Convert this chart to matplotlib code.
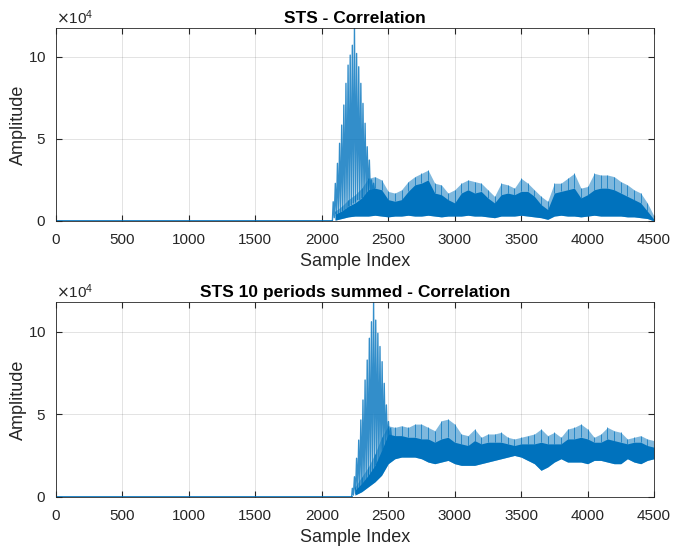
import numpy as np
import matplotlib
matplotlib.use('Agg')
import matplotlib.pyplot as plt

plt.rcParams['font.family'] = ['Liberation Sans', 'DejaVu Sans']

scale = 1e4
blue = '#0072BD'

# ---- STS correlation (values in units of 1e4) ----
onset1 = 2080
lobe1_start, lobe_step = 2086, 16
lobe1_peak = [1.17, 2.29, 3.51, 4.73, 5.84, 7.06, 8.38, 9.49, 10.1, 10.7,
              11.73, 10.2, 9.39, 8.38, 7.16, 5.95, 4.52, 3.71, 2.50, 2.3]
lobe1_base = [0.2, 0.3, 0.4, 0.5, 0.6, 0.7, 0.8, 0.9, 1.0, 1.1,
              1.2, 1.3, 1.3, 1.4, 1.5, 1.5, 1.6, 1.6, 1.7, 1.8]
band1_x = list(range(2100, 4501, 50))
band1_low = [0.05, 0.15, 0.25, 0.3, 0.3, 0.3, 0.35, 0.3, 0.25, 0.3,
             0.3, 0.35, 0.3, 0.3, 0.35, 0.3, 0.25, 0.3, 0.3, 0.3,
             0.35, 0.3, 0.3, 0.25, 0.2, 0.3, 0.3, 0.3, 0.35, 0.3,
             0.25, 0.2, 0.1, 0.3, 0.35, 0.3, 0.3, 0.25, 0.3, 0.35,
             0.3, 0.3, 0.3, 0.3, 0.25, 0.25, 0.2, 0.15, 0.0]
band1_core = [0.4, 0.6, 0.9, 1.1, 1.4, 1.9, 2.0, 1.9, 1.3, 1.2,
              1.3, 1.8, 2.2, 2.3, 2.5, 1.7, 1.6, 1.3, 1.1, 1.7,
              1.9, 1.7, 1.8, 1.4, 1.1, 1.6, 1.7, 1.6, 1.8, 1.8,
              1.5, 1.0, 0.7, 1.7, 1.8, 1.9, 2.0, 1.4, 1.6, 1.9,
              2.0, 2.0, 1.9, 1.7, 1.5, 1.3, 1.1, 0.6, 0.1]
band1_spike = [0.6, 0.9, 1.3, 1.6, 2.0, 2.6, 2.7, 2.5, 1.8, 1.7,
               1.9, 2.4, 2.7, 2.9, 3.1, 2.3, 2.2, 1.7, 1.9, 2.3,
               2.5, 2.4, 2.3, 1.9, 1.5, 2.3, 2.2, 2.0, 2.6, 2.3,
               1.9, 1.5, 1.2, 2.3, 2.3, 2.6, 2.9, 2.0, 2.1, 2.9,
               2.8, 2.8, 2.7, 2.4, 2.2, 1.9, 1.7, 1.1, 0.3]

# ---- STS 10 periods summed ----
onset2 = 2225
lobe2_start = 2230
lobe2_peak = [0.51, 1.21, 2.33, 3.43, 4.65, 5.86, 7.07, 8.28, 9.6, 10.6,
              11.78, 10.7, 9.9, 9.1, 8.18, 6.87, 5.56, 4.55, 4.15]
lobe2_base = [0.1, 0.2, 0.3, 0.45, 0.6, 0.75, 0.9, 1.1, 1.3, 1.5,
              1.7, 1.9, 2.1, 2.4, 2.6, 2.9, 3.1, 3.3, 3.4]
band2_x = list(range(2250, 4501, 50))
band2_low = [0.1, 0.3, 0.6, 0.9, 1.3, 2.0, 2.3, 2.4, 2.4, 2.4,
             2.3, 2.1, 2.0, 2.1, 2.2, 2.0, 1.9, 1.9, 1.9, 2.0,
             2.1, 2.2, 2.3, 2.4, 2.5, 2.4, 2.2, 2.0, 1.6, 1.8,
             2.1, 2.3, 2.1, 2.1, 2.1, 2.0, 2.2, 2.2, 2.1, 2.0,
             2.0, 2.3, 2.1, 2.0, 2.2, 2.3]
band2_core = [0.4, 0.8, 1.3, 1.9, 2.8, 3.8, 3.7, 3.7, 3.6, 3.6,
              3.5, 3.5, 3.3, 3.5, 3.6, 3.3, 3.2, 3.1, 3.4, 3.2,
              3.3, 3.3, 3.3, 3.2, 3.1, 3.2, 3.2, 3.2, 3.3, 3.2,
              3.2, 3.2, 3.5, 3.5, 3.6, 3.5, 3.3, 3.3, 3.5, 3.4,
              3.3, 3.2, 3.3, 3.3, 3.1, 3.0]
band2_spike = [0.6, 1.2, 1.8, 2.6, 3.6, 4.3, 4.2, 4.3, 4.2, 4.4,
               4.4, 4.2, 4.0, 4.6, 4.7, 4.4, 3.8, 3.7, 4.1, 3.6,
               3.8, 3.8, 3.9, 3.6, 3.5, 3.6, 3.7, 3.8, 4.1, 3.7,
               3.9, 3.6, 4.1, 4.2, 4.4, 4.1, 3.6, 3.8, 4.2, 4.0,
               3.9, 3.5, 3.6, 3.7, 3.5, 3.4]

xticks = list(range(0, 4501, 500))


def draw(ax, title, onset, lobe_start, lobe_peak, lobe_base, bx, blow, bcore, bspike):
    bx = np.array(bx)
    blow = np.array(blow) * scale
    bcore = np.array(bcore) * scale
    bspike = np.array(bspike) * scale
    ax.plot([0, onset], [0, 0], color=blue, lw=1.2)
    ax.fill_between(bx, blow, bspike, color=blue, alpha=0.5, lw=0)
    ax.fill_between(bx, blow, bcore, color=blue, lw=0)
    ax.vlines(bx, bcore, bspike, color=blue, lw=0.7, alpha=0.7)
    # main correlation lobe as a zigzag between peaks and troughs
    lx = lobe_start + lobe_step * np.arange(len(lobe_peak))
    xs = np.ravel(np.column_stack([lx, lx + lobe_step / 2]))
    ys = np.ravel(np.column_stack([lobe_peak, lobe_base])) * scale
    ax.plot(np.r_[onset, xs], np.r_[0, ys], color=blue, lw=1.0, alpha=0.8)
    ax.set_xlim(0, 4500)
    ax.set_ylim(0, max(lobe_peak) * scale)
    ax.set_xticks(xticks)
    ax.set_yticks([0, 5e4, 10e4])
    ax.ticklabel_format(axis='y', style='sci', scilimits=(4, 4), useMathText=True)
    ax.grid(True, color='#262626', alpha=0.15, lw=0.6)
    ax.set_axisbelow(True)
    ax.tick_params(direction='in', top=True, right=True, length=4,
                   labelsize=11, colors='#262626')
    ax.tick_params(axis='x', pad=9)
    ax.tick_params(axis='y', pad=7)
    for s in ax.spines.values():
        s.set_color('#262626')
        s.set_linewidth(0.6)
    ax.yaxis.get_offset_text().set_fontsize(11)
    ax.yaxis.get_offset_text().set_color('#262626')
    ax.set_xlabel('Sample Index', fontsize=13, color='#262626', labelpad=4)
    ax.set_ylabel('Amplitude', fontsize=13, color='#262626', labelpad=1)
    ax.set_title(title, fontsize=12.5, fontweight='bold', pad=4)


fig = plt.figure(figsize=(6.74, 5.5), dpi=100)
ax1 = fig.add_axes([0.0831, 0.5982, 0.8872, 0.3503])
ax2 = fig.add_axes([0.0831, 0.0969, 0.8872, 0.3535])

draw(ax1, 'STS - Correlation', onset1, lobe1_start, lobe1_peak, lobe1_base,
     band1_x, band1_low, band1_core, band1_spike)
draw(ax2, 'STS 10 periods summed - Correlation', onset2, lobe2_start, lobe2_peak, lobe2_base,
     band2_x, band2_low, band2_core, band2_spike)

fig.savefig('out.png', dpi=100)
